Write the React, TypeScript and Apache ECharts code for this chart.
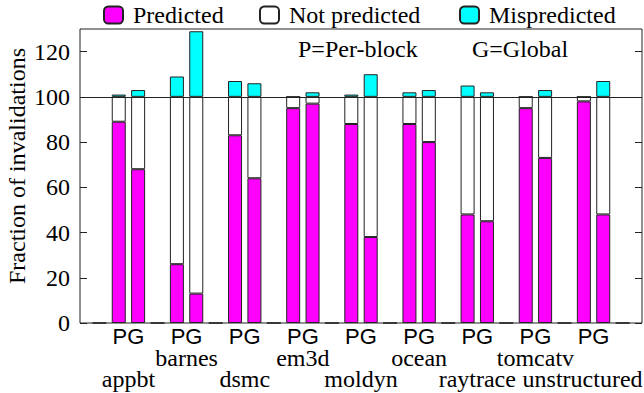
import React, { useEffect, useRef } from 'react';
import * as echarts from 'echarts';

const benchmarks = ['appbt', 'barnes', 'dsmc', 'em3d', 'moldyn', 'ocean', 'raytrace', 'tomcatv', 'unstructured'];
const schemeLabel = 'PG';
const perBlockPredicted = [89, 26, 83, 95, 88, 88, 48, 95, 98];
const perBlockNotPredicted = [11, 74, 17, 5, 12, 12, 52, 5, 2];
const perBlockMispredicted = [1, 9, 7, 0, 1, 2, 5, 0, 0];
const globalPredicted = [68, 13, 64, 97, 38, 80, 45, 73, 48];
const globalNotPredicted = [32, 87, 36, 3, 62, 20, 55, 27, 52];
const globalMispredicted = [3, 29, 6, 2, 10, 3, 2, 3, 7];
const emptySlotValue = 0;
const yTicks = [0, 20, 40, 60, 80, 100, 120];
const yMax = 130;
const referenceLine = 100;
const legendNames = ['Predicted', 'Not predicted', 'Mispredicted'];
const notes = ['P=Per-block', 'G=Global'];
const yAxisTitle = 'Fraction of invalidations';

const SERIF = "'Liberation Serif', 'Times New Roman', serif";
const SANS = "'Liberation Sans', Arial, sans-serif";
const SLOT_COUNT = benchmarks.length * 3 + 3; // 30 tick positions

function slotData(p: number[], g: number[]) {
  const arr: (number | null)[] = new Array(SLOT_COUNT).fill(null);
  benchmarks.forEach((_, k) => {
    arr[2 + 3 * k] = p[k];
    arr[3 + 3 * k] = g[k];
  });
  return arr;
}

function emptySlots() {
  const arr: (number | null)[] = new Array(SLOT_COUNT).fill(null);
  for (let k = 0; k <= benchmarks.length; k++) arr[1 + 3 * k] = emptySlotValue;
  return arr;
}

function labelAxisData() {
  const arr: string[] = new Array(SLOT_COUNT - 1).fill('');
  benchmarks.forEach((b, k) => {
    arr[2 + 3 * k] = b;
  });
  return arr;
}

export default function App() {
  const ref = useRef<HTMLDivElement>(null);
  useEffect(() => {
    if (!ref.current) return;
    const chart = echarts.init(ref.current, null, { renderer: 'svg' });
    const colors = ['#ff00ff', '#ffffff', '#00ffff'];
    const seriesValues = [
      slotData(perBlockPredicted, globalPredicted),
      slotData(perBlockNotPredicted, globalNotPredicted),
      slotData(perBlockMispredicted, globalMispredicted),
    ];
    const legendLefts = [103, 259, 459];
    const lastIndex = benchmarks.length - 1;
    const option: any = {
      animation: false,
      textStyle: { fontFamily: SERIF, color: '#000' },
      grid: {
        left: 80,
        right: 2,
        top: 29,
        bottom: 70,
        outerBoundsMode: 'none',
        containLabel: false,
        show: true,
        borderColor: '#222',
        borderWidth: 1,
        backgroundColor: 'transparent',
      },
      legend: legendNames.map((n, i) => ({
        data: [n],
        left: legendLefts[i],
        top: 3,
        padding: 0,
        itemWidth: 19,
        itemHeight: 17,
        textStyle: { fontFamily: SERIF, fontSize: 24, color: '#000', padding: [0, 0, 0, 5] },
        selectedMode: false,
      })),
      xAxis: [
        {
          type: 'category',
          data: Array.from({ length: SLOT_COUNT }, (_, i) => String(i)),
          boundaryGap: false,
          axisLine: { show: false },
          axisTick: { show: false },
          axisLabel: { show: false },
        },
        {
          type: 'category',
          position: 'bottom',
          data: labelAxisData(),
          boundaryGap: true,
          axisLine: { show: false },
          axisTick: { show: false },
          axisLabel: {
            interval: 0,
            margin: 2,
            formatter: (v: string) => {
              if (!v) return '';
              const k = benchmarks.indexOf(v);
              const style = k === lastIndex ? 'nmr' : 'nm';
              return k % 2 === 1
                ? `{pg|${schemeLabel}}\n{${style}|${v}}`
                : `{pg|${schemeLabel}}\n{nm| }\n{${style}|${v}}`;
            },
            rich: {
              pg: { fontFamily: SANS, fontSize: 22, lineHeight: 22, color: '#000' },
              nm: { fontFamily: SERIF, fontSize: 24, lineHeight: 21, color: '#000' },
              nmr: { fontFamily: SERIF, fontSize: 24, lineHeight: 21, color: '#000', padding: [0, 22, 0, 0] },
            },
          },
        },
      ],
      yAxis: [
        {
          type: 'value',
          min: 0,
          max: yMax,
          interval: 20,
          position: 'left',
          name: yAxisTitle,
          nameLocation: 'middle',
          nameGap: 51,
          nameMoveOverlap: false,
          nameTextStyle: { fontFamily: SERIF, fontSize: 24, color: '#000', padding: [0, 0, 0, 20] },
          axisLine: { show: false },
          splitLine: { show: false },
          axisTick: { show: true, inside: true, length: 7, customValues: yTicks, lineStyle: { color: '#222' } },
          axisLabel: { margin: 10, fontSize: 24, fontFamily: SERIF, color: '#000', customValues: yTicks },
        },
        {
          type: 'value',
          min: 0,
          max: yMax,
          interval: 20,
          position: 'right',
          axisLine: { show: false },
          splitLine: { show: false },
          axisTick: { show: true, inside: true, length: 7, customValues: yTicks, lineStyle: { color: '#222' } },
          axisLabel: { show: false },
        },
      ],
      series: [
        ...legendNames.map((n, i) => ({
          name: n,
          type: 'bar',
          stack: 'total',
          xAxisIndex: 0,
          yAxisIndex: 0,
          barWidth: 14,
          data: seriesValues[i],
          itemStyle: { color: colors[i], borderColor: '#222', borderWidth: 1 },
          emphasis: { disabled: true },
          ...(i === 2
            ? {
                markLine: {
                  silent: true,
                  symbol: 'none',
                  label: { show: false },
                  lineStyle: { color: '#222', width: 1, type: 'solid' },
                  data: [{ yAxis: referenceLine }],
                },
              }
            : {}),
        })),
        {
          name: 'empty',
          type: 'scatter',
          xAxisIndex: 0,
          yAxisIndex: 0,
          symbol: 'rect',
          symbolSize: [14, 2],
          data: emptySlots(),
          itemStyle: { color: '#222' },
          silent: true,
        },
      ],
      graphic: [
        { type: 'text', x: 298, y: 49, style: { text: notes[0], fontFamily: SERIF, fontSize: 24, fill: '#000', align: 'left', verticalAlign: 'middle' } },
        { type: 'text', x: 472, y: 49, style: { text: notes[1], fontFamily: SERIF, fontSize: 24, fill: '#000', align: 'left', verticalAlign: 'middle' } },
      ],
    };
    chart.setOption(option);
    return () => chart.dispose();
  }, []);
  return <div ref={ref} style={{ position: 'fixed', left: 0, top: 0, width: 644, height: 393, background: '#fff' }} />;
}
